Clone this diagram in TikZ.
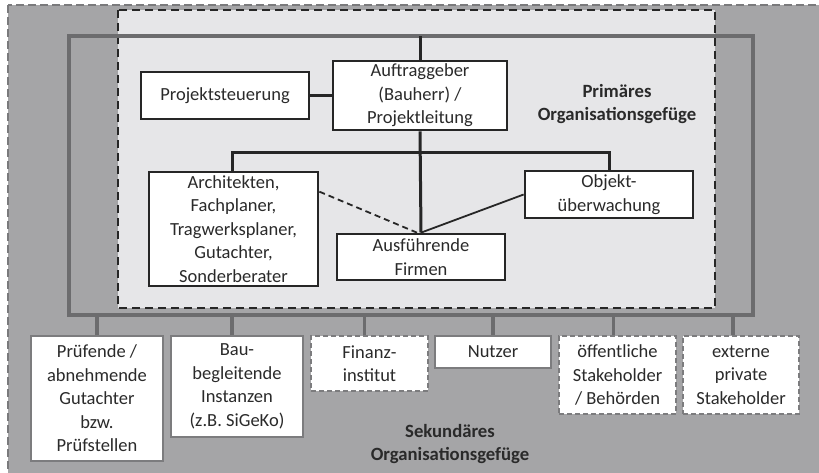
\documentclass[tikz,border=0pt]{standalone}
\usepackage{fontspec}
\setmainfont{Carlito}
\usetikzlibrary{calc}
\definecolor{outerfill}{HTML}{A5A5A7}
\definecolor{outerline}{HTML}{7A7A7C}
\definecolor{innerfill}{HTML}{E6E6E8}
\definecolor{darkline}{HTML}{262626}
\definecolor{busgray}{HTML}{6C6C6E}
\definecolor{txt}{HTML}{2A2A2A}
\definecolor{boxgray}{HTML}{7C7C7E}
\tikzset{
  pbox/.style={draw=darkline, line width=2.7pt, fill=white, rectangle, inner sep=0pt,
    align=center, text=txt, font=\fontsize{18.5}{23.5}\selectfont},
  sbox/.style={draw=boxgray, line width=2pt, fill=white, rectangle, inner sep=0pt,
    align=center, text=txt, font=\fontsize{18.5}{23.5}\selectfont},
  sdbox/.style={sbox, dash pattern=on 5pt off 3pt},
  conn/.style={draw=darkline, line width=3pt},
  thin/.style={draw=darkline, line width=1.8pt},
  bus/.style={draw=busgray, line width=3.6pt},
  lbl/.style={align=center, text=txt, font=\bfseries\fontsize{18.7}{23}\selectfont},
}
\begin{document}
\begin{tikzpicture}[x=1pt,y=-1pt]
\useasboundingbox (0,0) rectangle (819,473);
\clip (0,0) rectangle (819,473);
% outer secondary area
\draw[fill=outerfill, draw=outerline, line width=2.2pt, dash pattern=on 8pt off 4pt] (8,5) rectangle (840,495);
% inner primary area
\draw[fill=innerfill, draw=darkline, line width=2.6pt, dash pattern=on 8pt off 5pt] (118,10) rectangle (715,308);
% bus
\coordinate (btl) at (69,36);
\coordinate (bbr) at (753,315);
\draw[bus, line join=miter] (btl) rectangle (bbr);

% primary nodes
\node[pbox, minimum width=168, minimum height=47] (proj) at (225,95.5) {Projektsteuerung};
\node[pbox, minimum width=174, minimum height=69] (auf) at (420,95.5) {Auftraggeber\\(Bauherr) /\\Projektleitung};
\node[pbox, minimum width=169, minimum height=114] (arch) at (233.5,229) {Architekten,\\Fachplaner,\\Tragwerksplaner,\\Gutachter,\\Sonderberater};
\node[pbox, minimum width=168, minimum height=46] (aus) at (421,257) {Ausführende\\Firmen};
\node[pbox, minimum width=168, minimum height=47] (obj) at (609,194.5) {Objekt-\\überwachung};

\node[lbl] (prim) at (617,104) {Primäres\\Organisationsgefüge};

% primary connectors
\coordinate (topj) at (420,36);
\draw[conn] (auf.north) -- (topj);
\draw[conn] (proj.east) -- (auf.west);
\draw[conn] (auf.south) -- (aus.north);
\coordinate (hb) at (420,153);
\draw[conn, line join=miter] ([xshift=-1.5]arch.north) |- (hb) -| (obj.north);
\draw[thin, dash pattern=on 6pt off 4pt] ($(arch.north east)+(0,21)$) -- ($(aus.north)+(-4,0)$);
\draw[thin] (obj.west) -- (aus.north);

% secondary nodes
\node[sbox, minimum width=132, minimum height=125] (b1) at (97,398.5) {Prüfende /\\abnehmende\\Gutachter\\bzw.\\Prüfstellen};
\node[sbox, minimum width=132, minimum height=101] (b2) at (237,386.5) {Bau-\\begleitende\\Instanzen\\(z.B. SiGeKo)};
\node[sdbox, minimum width=117, minimum height=55] (b3) at (369.5,363.5) {Finanz-\\institut};
\node[sbox, minimum width=116, minimum height=32] (b4) at (493,352) {Nutzer};
\node[sdbox, minimum width=117, minimum height=78] (b5) at (617.5,375) {öffentliche\\Stakeholder\\/ Behörden};
\node[sdbox, minimum width=116, minimum height=78] (b6) at (741,375) {externe\\private\\Stakeholder};

\node[lbl] (sek) at (450,444) {Sekundäres\\Organisationsgefüge};

% bus drops
\draw[bus] (b1.north) -- (b1.north |- bbr);
\draw[bus] ([xshift=-5]b2.north) -- ([xshift=-5]b2.north |- bbr);
\draw[bus] ([xshift=-5]b3.north) -- ([xshift=-5]b3.north |- bbr);
\draw[bus] (b4.north) -- (b4.north |- bbr);
\draw[bus] ([xshift=-4]b5.north) -- ([xshift=-4]b5.north |- bbr);
\draw[bus] ([xshift=-8]b6.north) -- ([xshift=-8]b6.north |- bbr);
\end{tikzpicture}
\end{document}
